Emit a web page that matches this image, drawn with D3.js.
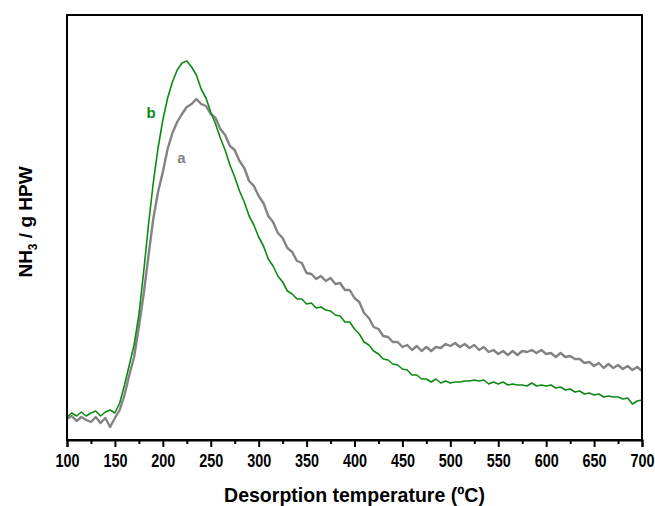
<!DOCTYPE html>
<html>
<head>
<meta charset="utf-8">
<script src="https://cdn.jsdelivr.net/npm/d3@7"></script>
<style>
  body { margin: 0; background: #fff; }
  svg text { font-family: Arial, "Liberation Sans", sans-serif; font-weight: bold; }
</style>
</head>
<body>
<div id="chart"></div>
<script>
// temperature grid (ºC), one reading every 5 degrees
const temps = d3.range(100, 701, 5);

// sample a (gray) - NH3 signal, arbitrary units
const seriesA = [
  21, 24, 19, 23, 20, 18, 23, 17, 22, 13,
  22, 30, 45, 65, 83, 113, 146, 184, 221, 248,
  268, 291, 307, 318, 326, 333, 336, 341, 336, 334,
  326, 322, 311, 305, 294, 290, 279, 272, 259, 254,
  244, 237, 224, 218, 207, 202, 192, 188, 179, 177,
  167, 166, 161, 164, 159, 162, 156, 157, 150, 150,
  142, 138, 127, 122, 113, 111, 104, 103, 98, 98,
  93, 95, 90, 94, 89, 93, 89, 93, 92, 96,
  94, 97, 93, 96, 92, 95, 90, 93, 88, 90,
  86, 89, 85, 89, 85, 89, 88, 90, 87, 90,
  86, 87, 83, 87, 83, 84, 81, 81, 77, 78,
  74, 77, 72, 76, 72, 75, 71, 74, 70, 73,
  69
];

// sample b (green)
const seriesB = [
  23, 27, 24, 28, 24, 27, 29, 24, 28, 30,
  27, 37, 55, 75, 95, 125, 168, 215, 257, 292,
  320, 342, 358, 370, 377, 379, 373, 365, 351, 342,
  328, 316, 302, 290, 275, 263, 249, 238, 224, 215,
  203, 194, 181, 174, 164, 158, 149, 146, 141, 141,
  136, 137, 132, 133, 130, 129, 125, 124, 118, 118,
  111, 106, 98, 95, 89, 86, 81, 80, 76, 75,
  71, 70, 65, 65, 61, 61, 58, 61, 57, 59,
  57, 58, 58, 59, 59, 60, 59, 60, 56, 58,
  56, 58, 55, 56, 55, 55, 54, 57, 54, 55,
  54, 55, 52, 53, 50, 51, 48, 49, 46, 47,
  45, 46, 43, 44, 43, 43, 41, 42, 36, 39,
  40
];

const majorTicks = d3.range(100, 701, 50);
const minorTicks = d3.range(125, 700, 50);

const width = 655, height = 506;
const margin = { left: 67, right: 13, top: 15, bottom: 66 };

const svg = d3.select('#chart').append('svg')
  .attr('width', width)
  .attr('height', height);

const x = d3.scaleLinear().domain([100, 700]).range([margin.left, width - margin.right]);
const y = d3.scaleLinear().domain([0, 425]).range([height - margin.bottom, margin.top]);

const line = d3.line()
  .x((_, i) => x(temps[i]))
  .y((d) => y(d));

svg.append('path')
  .datum(seriesA)
  .attr('fill', 'none')
  .attr('stroke', '#838383')
  .attr('stroke-width', 2.4)
  .attr('stroke-linejoin', 'round')
  .attr('d', line);

svg.append('path')
  .datum(seriesB)
  .attr('fill', 'none')
  .attr('stroke', '#0d8a12')
  .attr('stroke-width', 1.6)
  .attr('stroke-linejoin', 'round')
  .attr('d', line);

// frame
svg.append('rect')
  .attr('x', margin.left)
  .attr('y', margin.top)
  .attr('width', width - margin.left - margin.right)
  .attr('height', height - margin.top - margin.bottom)
  .attr('fill', 'none')
  .attr('stroke', '#000')
  .attr('stroke-width', 2);

// x axis
const gx = svg.append('g')
  .attr('transform', `translate(0,${height - margin.bottom})`)
  .call(d3.axisBottom(x).tickValues(majorTicks).tickSize(7).tickPadding(7));
gx.select('.domain').attr('stroke-width', 2);
gx.selectAll('.tick line').attr('stroke-width', 2);
gx.selectAll('.tick text')
  .attr('font-size', 18)
  .attr('fill', '#000')
  .attr('transform', 'scale(0.8,1)')
  .style('font-weight', 'bold');

const gm = svg.append('g')
  .attr('transform', `translate(0,${height - margin.bottom})`)
  .call(d3.axisBottom(x).tickValues(minorTicks).tickSize(4).tickFormat(''));
gm.select('.domain').remove();
gm.selectAll('.tick line').attr('stroke-width', 2);

// axis titles
svg.append('text')
  .attr('transform', `translate(${(margin.left + width - margin.right) / 2},502) scale(0.93,1)`)
  .attr('text-anchor', 'middle')
  .attr('font-size', 21)
  .text('Desorption temperature (ºC)');

const yl = svg.append('text')
  .attr('transform', 'translate(32,222) rotate(-90)')
  .attr('text-anchor', 'middle')
  .attr('font-size', 19);
yl.append('tspan').text('NH');
yl.append('tspan').attr('font-size', 12).attr('dy', 5).text('3');
yl.append('tspan').attr('dy', -5).text(' / g HPW');

// curve labels
svg.append('text')
  .attr('x', x(183))
  .attr('y', y(440 - 118))
  .attr('font-size', 15)
  .attr('fill', '#0d8a12')
  .text('b');

svg.append('text')
  .attr('x', x(215))
  .attr('y', y(440 - 163))
  .attr('font-size', 15)
  .attr('fill', '#838383')
  .text('a');
</script>
</body>
</html>
